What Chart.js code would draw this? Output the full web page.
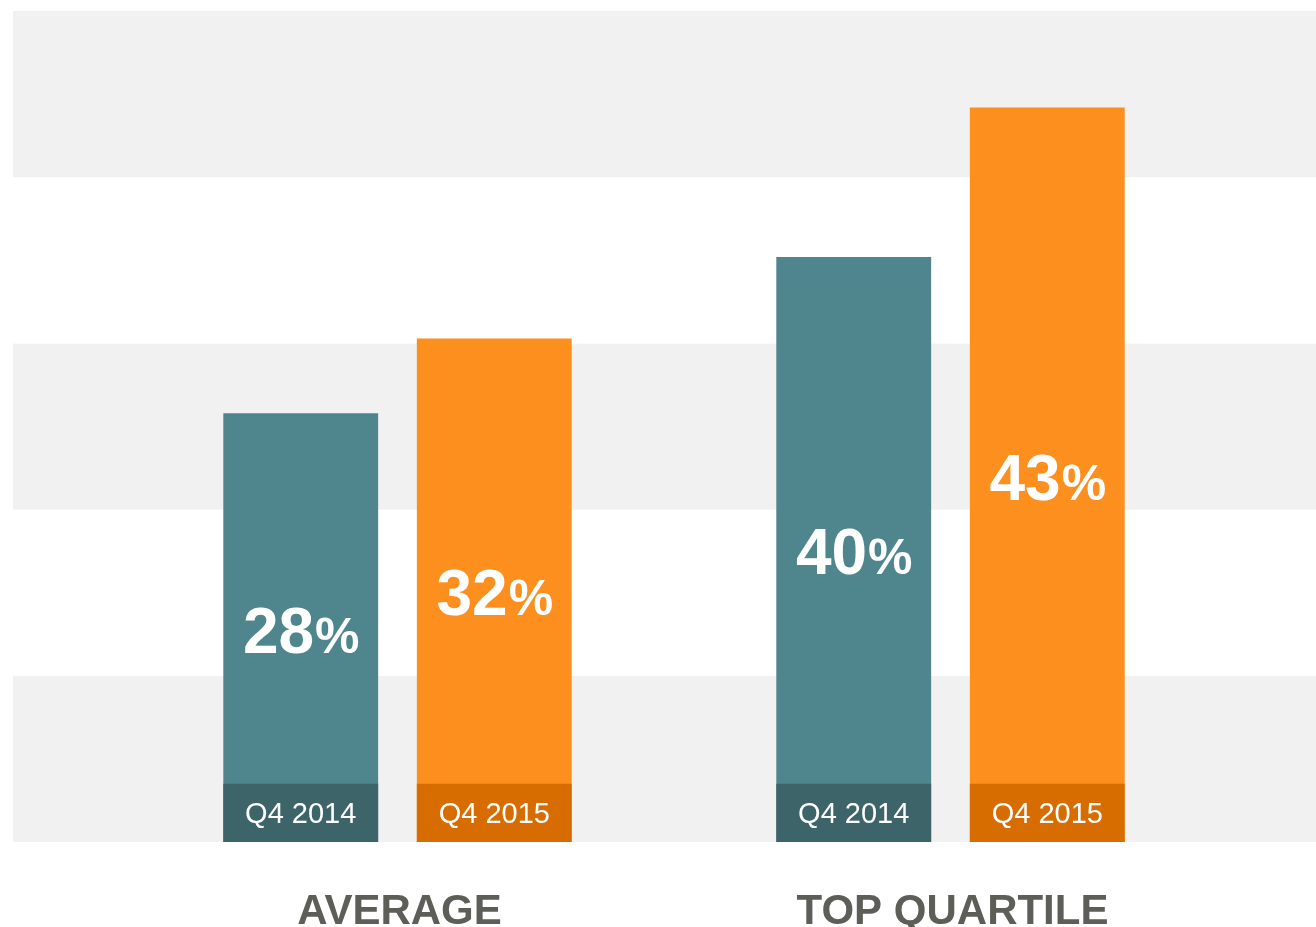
<!DOCTYPE html>
<html>
<head>
<meta charset="utf-8">
<script src="https://cdn.jsdelivr.net/npm/chart.js@4/dist/chart.umd.min.js"></script>
<style>
  body { margin: 0; background: #ffffff; }
  #chart { display: block; }
</style>
</head>
<body>
<canvas id="chart" width="1316" height="927"></canvas>
<script>
// Data
const categories = ['AVERAGE', 'TOP QUARTILE'];
const periods = ['Q4 2014', 'Q4 2015'];
const heights2014 = [25.8, 35.2];   // bar heights as drawn (band units of 10)
const heights2015 = [30.3, 44.2];
const values2014 = ['28', '40'];    // printed values
const values2015 = ['32', '43'];
const stripHeight = [3.5, 3.5];     // darker label strip at the foot of each bar
const bandTicks = [0, 10, 20, 30, 40, 50];

const colors = {
    teal: '#4f858c',
    tealDark: '#3d6569',
    orange: '#fd8f1e',
    orangeDark: '#d76d00',
    band: '#f1f1f1',
    label: '#5e5e58'
};

// grey / white bands behind the bars
const bandsPlugin = {
    id: 'bands',
    beforeDraw(chart) {
        const ctx = chart.ctx;
        const y = chart.scales.y;
        ctx.save();
        for (let i = 0; i < bandTicks.length - 1; i++) {
            const top = y.getPixelForValue(bandTicks[i + 1]);
            const bottom = y.getPixelForValue(bandTicks[i]);
            ctx.fillStyle = i % 2 === 0 ? colors.band : '#ffffff';
            ctx.fillRect(13, top, chart.width - 13, bottom - top);
        }
        ctx.restore();
    }
};

// value labels, strip labels and category names
const labelsPlugin = {
    id: 'labels',
    afterDatasetsDraw(chart) {
        const ctx = chart.ctx;
        const x = chart.scales.x;
        ctx.save();
        const mainSets = [2, 3];
        const printed = [values2014, values2015];
        mainSets.forEach((dsIndex, k) => {
            const meta = chart.getDatasetMeta(dsIndex);
            const stripMeta = chart.getDatasetMeta(k);
            meta.data.forEach((bar, i) => {
                // big percentage in the middle of the bar
                const cy = (bar.y + bar.base) / 2 + 2;
                const num = printed[k][i];
                ctx.font = 'bold 64px "Liberation Sans", Arial, sans-serif';
                const wNum = ctx.measureText(num).width;
                ctx.font = 'bold 50px "Liberation Sans", Arial, sans-serif';
                const wPct = ctx.measureText('%').width;
                const startX = bar.x - (wNum + wPct) / 2;
                const baseY = cy + 23;
                ctx.fillStyle = '#ffffff';
                ctx.textAlign = 'left';
                ctx.textBaseline = 'alphabetic';
                ctx.font = 'bold 64px "Liberation Sans", Arial, sans-serif';
                ctx.fillText(num, startX, baseY);
                ctx.font = 'bold 50px "Liberation Sans", Arial, sans-serif';
                ctx.fillText('%', startX + wNum + 1, baseY);

                // period label in the strip
                const strip = stripMeta.data[i];
                ctx.font = '29px "Liberation Sans", Arial, sans-serif';
                ctx.textAlign = 'center';
                ctx.textBaseline = 'middle';
                ctx.fillText(periods[k], strip.x, (strip.y + strip.base) / 2 + 2);
            });
        });
        ctx.fillStyle = colors.label;
        ctx.font = 'bold 42px "Liberation Sans", Arial, sans-serif';
        ctx.textAlign = 'center';
        ctx.textBaseline = 'alphabetic';
        categories.forEach((c, i) => {
            ctx.fillText(c, x.getPixelForValue(i) + 2, 924);
        });
        ctx.restore();
    }
};

new Chart(document.getElementById('chart'), {
    type: 'bar',
    data: {
        labels: categories,
        datasets: [
            { label: periods[0] + ' strip', data: stripHeight, stack: 's2014', backgroundColor: colors.tealDark },
            { label: periods[1] + ' strip', data: stripHeight, stack: 's2015', backgroundColor: colors.orangeDark },
            { label: periods[0], data: heights2014, stack: 's2014', backgroundColor: colors.teal },
            { label: periods[1], data: heights2015, stack: 's2015', backgroundColor: colors.orange }
        ]
    },
    options: {
        responsive: false,
        animation: false,
        devicePixelRatio: 1,
        layout: { padding: { left: 121, right: 89, top: 11, bottom: 85 } },
        datasets: { bar: { categoryPercentage: 0.7, barPercentage: 0.8, borderWidth: 0 } },
        scales: {
            x: { display: false, stacked: true },
            y: { display: false, stacked: false, min: 0, max: 50 }
        },
        plugins: {
            legend: { display: false },
            tooltip: { enabled: false }
        }
    },
    plugins: [bandsPlugin, labelsPlugin]
});
</script>
</body>
</html>
